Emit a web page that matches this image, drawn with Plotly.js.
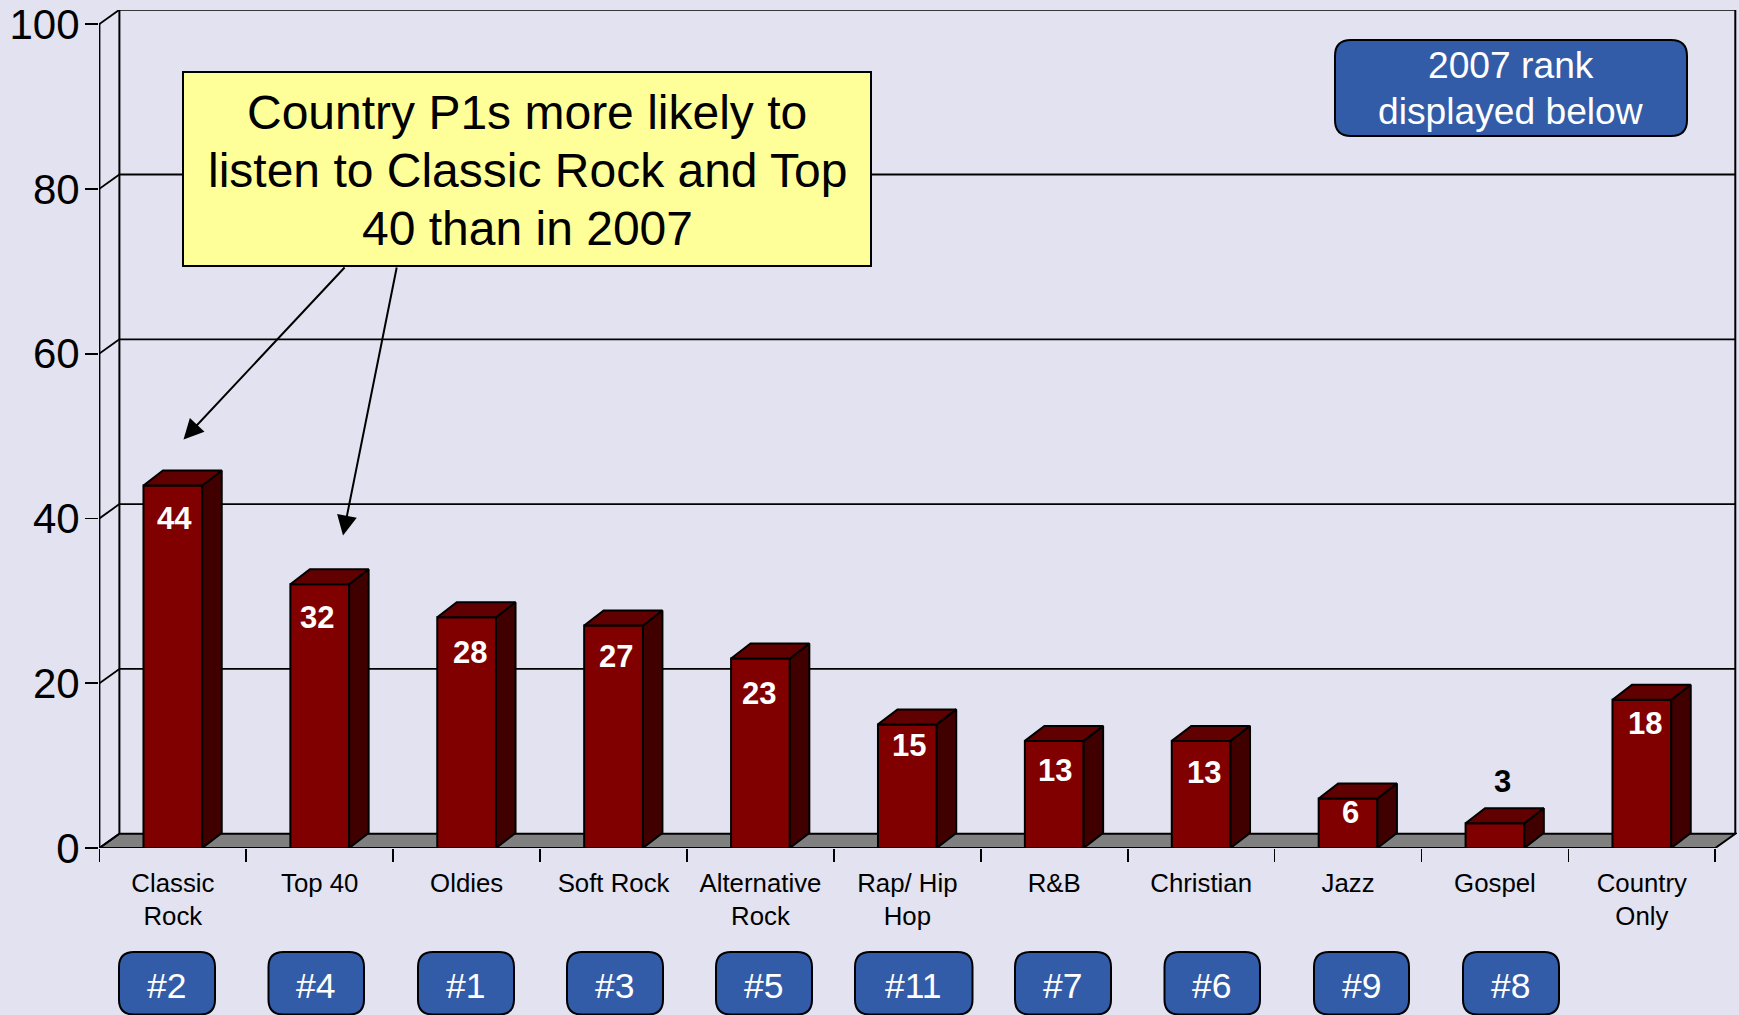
<!DOCTYPE html>
<html><head><meta charset="utf-8">
<script src="https://cdn.plot.ly/plotly-3.0.1.min.js"></script>
<style>html,body{margin:0;padding:0;background:#E2E2F0;overflow:hidden}#c{width:1739px;height:1015px}</style>
</head><body><div id="c"></div>
<script>
const categories = ['Classic<br>Rock','Top 40','Oldies','Soft Rock','Alternative<br>Rock','Rap/ Hip<br>Hop','R&B','Christian','Jazz','Gospel','Country<br>Only'];
const values = [44,32,28,27,23,15,13,13,6,3,18];
const ranks = ['#2','#4','#1','#3','#5','#11','#7','#6','#9','#8'];
const yTicks = [0,20,40,60,80,100];
const calloutLines = ['Country P1s more likely to','listen to Classic Rock and Top','40 than in 2007'];
const noteLines = ['2007 rank','displayed below'];

// layout geometry
const W=1739,H=1015,L=99,R=2,T=10,B=167;
const pw=W-L-R, ph=H-T-B;
const xStart=-0.5-0.4/146.9;
const xr=[xStart,xStart+pw/146.9], yr=[0,ph/8.24];
const DX=20/146.9, DY=14.3/8.24;      // wall depth in data units
const BDX=19.5/146.9, BDY=15/8.24;  // bar depth in data units
const BW=0.4;
const px=x=>(x-L)/pw, py=y=>(H-B-y)/ph;
const BLK='#000';
const lineBelow=(x0,y0,x1,y1,w)=>({type:'line',layer:'below',xref:'x',yref:'y',x0,y0,x1,y1,line:{color:BLK,width:w||1.8}});
function rrect(x0,y0,x1,y1,r,fill,lw){
  const X0=px(x0),X1=px(x1),Y0=py(y0),Y1=py(y1),rx=r/pw,ry=r/ph;
  return {type:'path',layer:'above',xref:'paper',yref:'paper',fillcolor:fill,line:{color:BLK,width:lw},
    path:`M${X0+rx},${Y0} L${X1-rx},${Y0} Q${X1},${Y0} ${X1},${Y0-ry} L${X1},${Y1+ry} Q${X1},${Y1} ${X1-rx},${Y1} L${X0+rx},${Y1} Q${X0},${Y1} ${X0},${Y1+ry} L${X0},${Y0-ry} Q${X0},${Y0} ${X0+rx},${Y0} Z`};
}
const shapes=[];
const x0=-0.5,x1=10.5;
// floor
shapes.push({type:'path',layer:'below',xref:'x',yref:'y',fillcolor:'#808080',line:{color:BLK,width:2},
  path:`M${x0},0 L${x1},0 L${x1+DX},${DY} L${x0+DX},${DY} Z`});
// walls
const wallTop=100+DY;
shapes.push(lineBelow(x0,0,x0,100,2));
shapes.push(lineBelow(x0+DX,DY,x0+DX,wallTop,2));
shapes.push(lineBelow(x1+DX,DY,x1+DX,wallTop,2));
yTicks.forEach(v=>{
  shapes.push(lineBelow(x0,v,x0+DX,v+DY,1.8));
  if(v>0) shapes.push(lineBelow(x0+DX,v+DY,x1+DX,v+DY,v===100?2:1.8));
});
// callout and note boxes
shapes.push({type:'rect',layer:'above',xref:'paper',yref:'paper',x0:px(183),x1:px(871),y0:py(266),y1:py(72),fillcolor:'#FFFF99',line:{color:BLK,width:2}});
shapes.push(rrect(1335,40,1687,136,16,'#335CA8',2));
// rank boxes
const rankL=[119,268.5,418,567,716,855,1015,1164.5,1314,1463], rankR=[215,364,514,663,812,972.5,1111,1260,1409,1559];
const annos=[];
ranks.forEach((t,i)=>{
  shapes.push(rrect(rankL[i],952,rankR[i],1014.5,15,'#335CA8',2));
  annos.push({xref:'paper',yref:'paper',x:px((rankL[i]+rankR[i])/2),y:py(985.5),text:t,showarrow:false,xanchor:'center',yanchor:'middle',font:{size:35.5,color:'#fff'}});
});
// data labels, nudged off the bar tops like the source
const labelDy=[33,33,35,31,35,21,30,32,14,-42,24], labelDx=[2,-3,3,2,-1,2,1,3,2,8,3];
values.forEach((v,i)=>{
  annos.push({xref:'x',yref:'y',x:i,y:v,text:'<b>'+v+'</b>',showarrow:false,xanchor:'center',yanchor:'middle',xshift:labelDx[i],yshift:-labelDy[i],font:{size:31,color:v<5?'#000':'#fff'}});
});
calloutLines.forEach((t,i)=>annos.push({xref:'paper',yref:'paper',x:px(527),y:py(112.5+57.9*i),text:t,showarrow:false,xanchor:'center',yanchor:'middle',font:{size:48,color:'#000'}}));
noteLines.forEach((t,i)=>annos.push({xref:'paper',yref:'paper',x:px(1510.5),y:py(65.5+45*i),text:t,showarrow:false,xanchor:'center',yanchor:'middle',font:{size:37.2,color:'#fff'}}));
// arrows
[[346,266,183.5,439.5],[397,266,343,535.5]].forEach(a=>annos.push({xref:'paper',yref:'paper',axref:'pixel',ayref:'pixel',x:px(a[2]),y:py(a[3]),ax:a[0]-a[2],ay:a[1]-a[3],text:'',showarrow:true,arrowhead:2,arrowsize:2,arrowwidth:2,arrowcolor:'#000',standoff:0}));

// bar faces
const idx=values.map((_,i)=>i);
const traces=[{type:'bar',x:idx,y:values,width:BW,marker:{color:'#800000',line:{color:BLK,width:2}},hoverinfo:'skip',showlegend:false}];
values.forEach((v,i)=>{
  const l=i-BW/2,r=i+BW/2;
  traces.push({type:'scatter',mode:'lines',x:[r,r+BDX,r+BDX,r,r],y:[0,BDY,v+BDY,v,0],fill:'toself',fillcolor:'#400000',line:{color:BLK,width:2},hoverinfo:'skip',showlegend:false});
  traces.push({type:'scatter',mode:'lines',x:[l,l+BDX,r+BDX,r,l],y:[v,v+BDY,v+BDY,v,v],fill:'toself',fillcolor:'#600000',line:{color:BLK,width:2},hoverinfo:'skip',showlegend:false});
});
const boundaries=[]; for(let i=0;i<=11;i++) boundaries.push(i-0.5);
const layout={
  width:W,height:H,margin:{l:L,r:R,t:T,b:B,pad:0},showlegend:false,
  paper_bgcolor:'#E2E2F0',plot_bgcolor:'#E2E2F0',
  font:{family:'"Liberation Sans",Arial,sans-serif',color:'#000'},
  xaxis:{type:'linear',range:xr,fixedrange:true,showline:false,showgrid:false,zeroline:false,
    tickmode:'array',tickvals:idx,ticktext:categories,ticks:'',ticklabelstandoff:17,tickfont:{size:25.8,color:'#000'},tickangle:0,
    minor:{tickmode:'array',tickvals:boundaries,ticks:'outside',ticklen:13,tickwidth:1.8,tickcolor:BLK,showgrid:false}},
  yaxis:{range:yr,fixedrange:true,showline:false,showgrid:false,zeroline:false,
    tickmode:'array',tickvals:yTicks,ticktext:yTicks.map(String),ticks:'outside',ticklen:13,tickwidth:1.8,tickcolor:BLK,ticklabelstandoff:-3,tickfont:{size:42,color:'#000'}},
  shapes,annotations:annos,bargap:0
};
Plotly.newPlot('c',traces,layout,{displayModeBar:false,staticPlot:true});
</script></body></html>
